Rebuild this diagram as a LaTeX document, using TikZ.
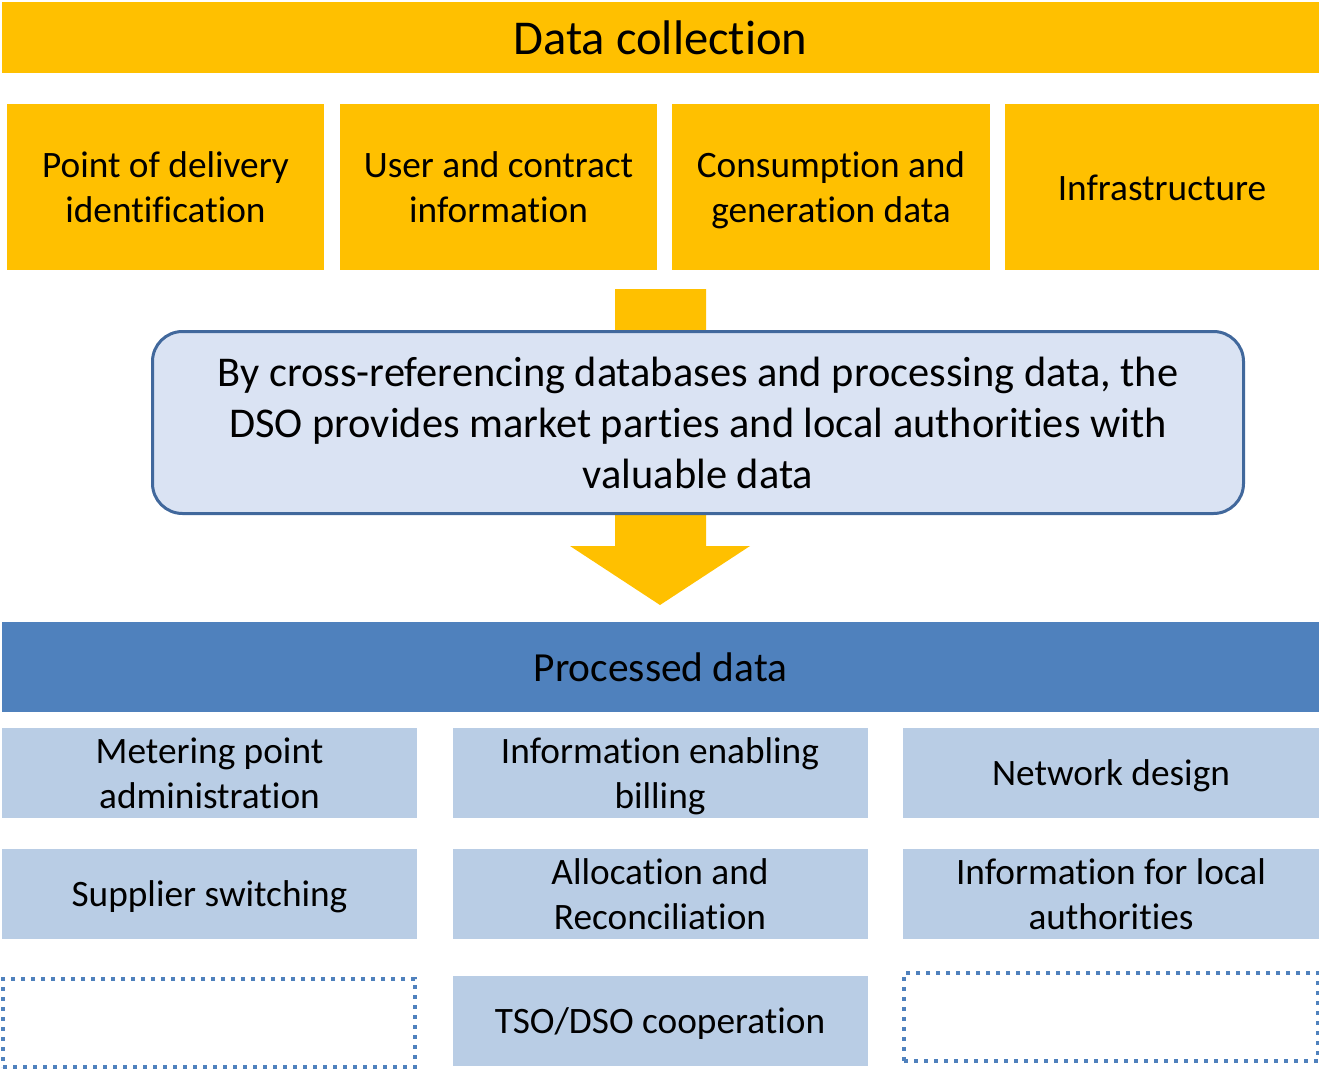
\documentclass[tikz,border=0pt]{standalone}
\usepackage{fontspec}
\setmainfont{Carlito}[Ligatures=NoCommon]
\definecolor{gold}{HTML}{FFC000}
\definecolor{pale}{HTML}{DAE3F3}
\definecolor{rim}{HTML}{41689C}
\definecolor{bar}{HTML}{4F81BD}
\definecolor{cell}{HTML}{B9CDE5}
\newcommand\tst{\rule[-0.15em]{0pt}{1em}}
\begin{document}
\begin{tikzpicture}[x=1pt,y=-1pt,
  base/.style={inner sep=0pt,outer sep=0pt,align=center,text=black},
  ybox/.style={base,fill=gold,font=\fontsize{37.3}{45}\selectfont},
  bbox/.style={base,fill=cell,minimum width=415,minimum height=90,font=\fontsize{37.3}{45}\selectfont},
  dbox/.style={base,draw=bar,line width=3.6pt,dash pattern=on 3.6pt off 6.4pt,minimum width=412,minimum height=88},
  titlebar/.style={base,minimum width=1317},
  bigarrow/.style={fill=gold,draw=none}
]
\useasboundingbox (0,0) rectangle (1319,1070);

% top title
\node[titlebar,fill=gold,minimum height=71,font=\fontsize{48.6}{56}\selectfont] (dc) at (660.5,37.5) {\tst Data collection};

% four source boxes
\node[ybox,minimum width=317,minimum height=166] (p1) at (165.5,187) {\tst Point of delivery\\identification\tst};
\node[ybox,minimum width=317,minimum height=166] (p2) at (498.5,187) {\tst User and contract\\information\tst};
\node[ybox,minimum width=318,minimum height=166] (p3) at (831,187) {\tst Consumption and\\generation data\tst};
\node[ybox,minimum width=314,minimum height=166] (p4) at (1162,187) {\tst Infrastructure};

% arrow (behind the rounded box)
\path[bigarrow] (615,289) -- (706,289) -- (706,546) -- (750,546) -- (660,605) -- (570,546) -- (615,546) -- cycle;
\coordinate (tip) at (660,605);

% rounded process box
\node[base,fill=pale,draw=rim,line width=3pt,rounded corners=30pt,minimum width=1091,minimum height=182,
  font=\fontsize{42.4}{51}\selectfont] (proc) at (698,422.5)
  {\tst By cross-referencing databases and processing data, the\\DSO provides market parties and local authorities with\\valuable data\tst};

% processed data bar
\node[titlebar,fill=bar,minimum height=90,font=\fontsize{41.4}{48}\selectfont] (pd) at (660.5,667) {\tst Processed data};

% result cells
\node[bbox] (r11) at (209.5,773) {\tst Metering point\\administration\tst};
\node[bbox] (r12) at (660,773) {\tst Information enabling\\billing\tst};
\node[bbox,minimum width=416] (r13) at (1111,773) {\tst Network design};
\node[bbox] (r21) at (209.5,894) {\tst Supplier switching};
\node[bbox] (r22) at (660,894) {\tst Allocation and\\Reconciliation\tst};
\node[bbox,minimum width=416] (r23) at (1111,894) {\tst Information for local\\authorities\tst};
\node[bbox] (r32) at (660,1020.5) {\tst TSO/DSO cooperation};

% empty dotted cells
\node[dbox] (r31) at (209,1023) {};
\node[dbox,minimum width=414] (r33) at (1111,1017) {};
\end{tikzpicture}
\end{document}
